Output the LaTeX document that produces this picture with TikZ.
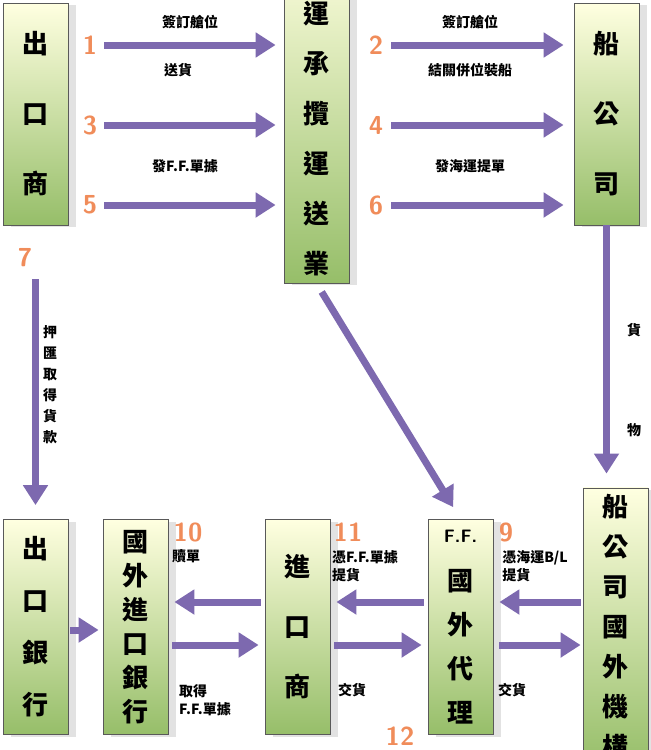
\documentclass[tikz,border=0pt]{standalone}
\usepackage{fontspec}
\newfontfamily\cjk{Noto Sans CJK TC}
\usetikzlibrary{arrows.meta,shadows}
\definecolor{flowpurple}{RGB}{125,105,175}
\definecolor{steporange}{RGB}{240,140,90}
\definecolor{boxgreen}{RGB}{150,190,105}
\newcommand{\vfont}[1]{\cjk\bfseries\fontsize{13}{#1}\selectfont}

\begin{document}
\begin{tikzpicture}[x=0.5pt,y=-0.5pt,
    box/.style={rectangle,draw=gray!70!black,thin,minimum width=32.5pt,minimum height=111pt,
      align=center,top color=yellow!12,bottom color=boxgreen,
      drop shadow={shadow xshift=4pt,shadow yshift=-1pt,fill=gray!45}},
    lowbox/.style={box,minimum height=107.5pt},
    arrow/.style={-{Triangle[length=10pt,width=12pt]},line width=3.5pt,flowpurple},
    num/.style={font=\sffamily\bfseries\fontsize{13}{13}\selectfont,text=steporange},
    lbl/.style={font=\cjk\bfseries\fontsize{7}{9}\selectfont,align=left}]

    \useasboundingbox (0,0) rectangle (650,750);

    % top row
    \node[box,font=\vfont{35}] (exp) at (35.5,114) {出\\口\\商};
    \node[box,font=\vfont{25}] (ff) at (316.5,114) {海\\運\\承\\攬\\運\\送\\業};
    \node[box,font=\vfont{35}] (ship) at (606.5,114) {船\\公\\司};

    % bottom row
    \node[lowbox,font=\vfont{26}] (bank1) at (35.5,627) {出\\口\\銀\\行};
    \node[lowbox,font=\vfont{17}] (bank2) at (135.5,627) {國\\外\\進\\口\\銀\\行};
    \node[lowbox,font=\vfont{30}] (imp) at (297.5,627) {進\\口\\商};
    \node[lowbox,font=\vfont{22}] (ffa) at (460.5,627) {{\sffamily\bfseries\fontsize{9}{9}\selectfont F.F.}\\[2pt]國\\外\\代\\理};
    \node[lowbox,font=\vfont{20}] (shipa) at (615.5,627) {船\\公\\司\\國\\外\\機\\構};

    % top arrows
    \foreach \y in {45,125,205}{
      \draw[arrow,shorten <=18pt,shorten >=4pt] (exp.east|-0,\y) -- (ff.west|-0,\y);
      \draw[arrow,shorten <=21pt,shorten >=5pt] (ff.east|-0,\y) -- (ship.west|-0,\y);
    }
    \node[num] (n1) at (90,45) {1};
    \node[num] (n3) at (90,125) {3};
    \node[num] (n5) at (90,205) {5};
    \node[num] (n2) at (376,45) {2};
    \node[num] (n4) at (376,125) {4};
    \node[num] (n6) at (376,205) {6};
    \node[lbl] (t1) at (190,22) {簽訂艙位};
    \node[lbl] (t1b) at (178,70) {送貨};
    \node[lbl] (t5) at (185,166) {發F.F.單據};
    \node[lbl] (t2) at (470,22) {簽訂艙位};
    \node[lbl] (t2b) at (470,70) {結關併位裝船};
    \node[lbl] (t6) at (470,166) {發海運提單};

    % vertical and diagonal arrows
    \node[num] (n7) at (25,258) {7};
    \draw[arrow,shorten <=27pt,shorten >=7pt] (exp.south) -- (bank1.north);
    \node[lbl,align=center,font=\cjk\bfseries\fontsize{7}{10.5}\selectfont] (t7) at (50,385) {押\\匯\\取\\得\\貨\\款};
    \draw[arrow,shorten <=0pt,shorten >=7pt] (ship.south) -- (ship.south|-shipa.north);
    \node[lbl] (tg1) at (634,330) {貨};
    \node[lbl] (tg2) at (634,430) {物};
    \draw[arrow,shorten <=5pt,shorten >=7pt] (ff.south) -- (ffa.north);

    % bottom arrows
    \draw[arrow,shorten <=1pt,shorten >=2pt] (bank1.east|-0,630) -- (bank2.west|-0,630);
    \draw[arrow,shorten <=2pt,shorten >=3pt] (imp.west|-0,602) -- (bank2.east|-0,602);
    \draw[arrow,shorten <=2pt,shorten >=3pt] (bank2.east|-0,645) -- (imp.west|-0,645);
    \draw[arrow,shorten <=2pt,shorten >=3pt] (ffa.west|-0,602) -- (imp.east|-0,602);
    \draw[arrow,shorten <=2pt,shorten >=3pt] (imp.east|-0,645) -- (ffa.west|-0,645);
    \draw[arrow,shorten <=1pt,shorten >=3pt] (shipa.west|-0,602) -- (ffa.east|-0,602);
    \draw[arrow,shorten <=3pt,shorten >=1pt] (ffa.east|-0,645) -- (shipa.west|-0,645);

    \node[num] (n10) at (188,532) {10};
    \node[lbl] (t10) at (186,556) {贖單};
    \node[lbl] (t10b) at (205,700) {取得\\F.F.單據};
    \node[num] (n11) at (348,532) {11};
    \node[lbl] (t11) at (365,566) {憑F.F.單據\\提貨};
    \node[lbl] (t11b) at (352,690) {交貨};
    \node[num] (n12) at (400,736) {12};
    \node[num] (n9) at (506,532) {9};
    \node[lbl] (t9) at (535,566) {憑海運B/L\\提貨};
    \node[lbl] (t9b) at (512,690) {交貨};
\end{tikzpicture}
\end{document}
